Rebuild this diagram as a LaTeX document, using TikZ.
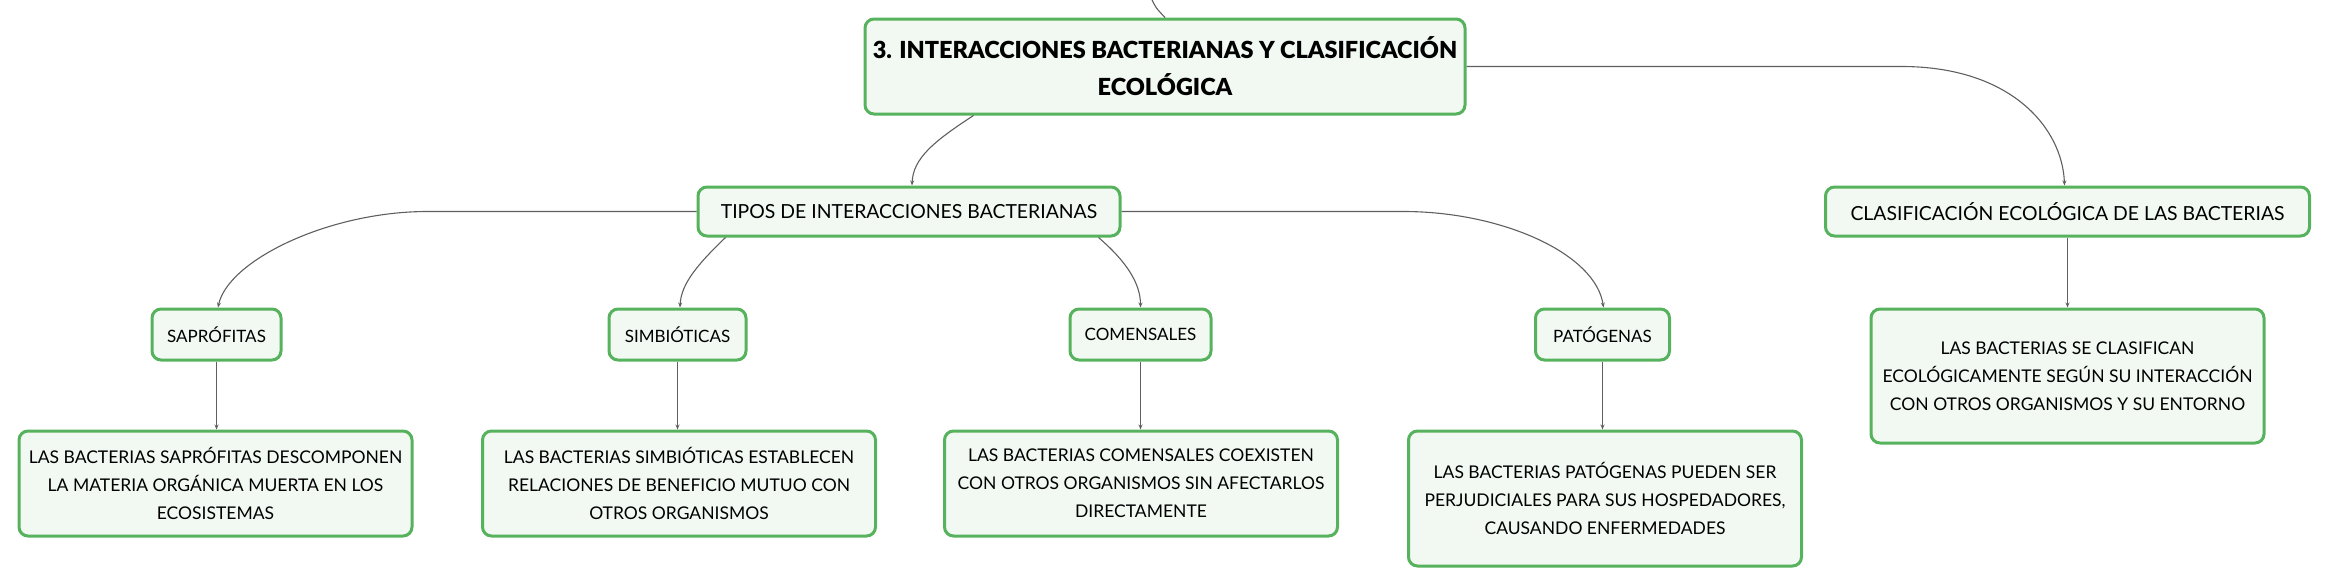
\documentclass[tikz,border=0pt]{standalone}
\usepackage{fontspec}
\setmainfont{Lato}
\newfontfamily\titlefont{Lato Black}
\usetikzlibrary{arrows.meta}
\definecolor{boxgreen}{RGB}{86,178,92}
\definecolor{boxfill}{RGB}{241,249,242}
\definecolor{linkgray}{RGB}{95,95,95}
\begin{document}
\begin{tikzpicture}[x=1pt,y=-1pt,
  box/.style={draw=boxgreen,fill=boxfill,line width=3pt,rounded corners=9pt,align=center,inner sep=0pt},
  mainbox/.style={box,minimum width=600pt,minimum height=95pt,font=\fontsize{23.5}{37}\selectfont\titlefont},
  topicbox/.style={box,minimum height=49pt,font=\fontsize{19.4}{24}\selectfont},
  typebox/.style={box,minimum height=51pt,font=\fontsize{17}{22}\selectfont},
  leafbox/.style={box,minimum width=393pt,font=\fontsize{17.5}{28}\selectfont},
  link/.style={draw=linkgray,line width=1.1pt},
  tip/.style={-{Stealth[length=5pt,width=4pt]}}]

\useasboundingbox (0,0) rectangle (2330,587);

\node[mainbox] (main) at (1165,66.5) {3. INTERACCIONES BACTERIANAS Y CLASIFICACIÓN\\ECOLÓGICA};

\node[topicbox,minimum width=422pt] (tipos) at (909,211.5) {TIPOS DE INTERACCIONES BACTERIANAS};
\node[topicbox,minimum width=484pt] (clasif) at (2067.5,211.5) {CLASIFICACIÓN ECOLÓGICA DE LAS BACTERIAS};

\node[typebox,minimum width=129pt] (sapro) at (216.5,334.5) {SAPRÓFITAS};
\node[typebox,minimum width=137pt] (simbio) at (677.5,334.5) {SIMBIÓTICAS};
\node[typebox,minimum width=141pt] (comen) at (1140.5,334.5) {COMENSALES};
\node[typebox,minimum width=134pt] (pato) at (1602.5,334.5) {PATÓGENAS};

\node[leafbox,minimum height=105pt] (saproleaf) at (215.5,483.5) {LAS BACTERIAS SAPRÓFITAS DESCOMPONEN\\LA MATERIA ORGÁNICA MUERTA EN LOS\\ECOSISTEMAS};
\node[leafbox,minimum height=105pt] (simbioleaf) at (679,483.5) {LAS BACTERIAS SIMBIÓTICAS ESTABLECEN\\RELACIONES DE BENEFICIO MUTUO CON\\OTROS ORGANISMOS};
\node[leafbox,minimum height=105pt] (comenleaf) at (1141,483.5) {LAS BACTERIAS COMENSALES COEXISTEN\\CON OTROS ORGANISMOS SIN AFECTARLOS\\DIRECTAMENTE};
\node[leafbox,minimum height=135pt] (patoleaf) at (1605,498.5) {LAS BACTERIAS PATÓGENAS PUEDEN SER\\PERJUDICIALES PARA SUS HOSPEDADORES,\\CAUSANDO ENFERMEDADES};
\node[leafbox,minimum height=134pt] (clasifleaf) at (2067.5,376) {LAS BACTERIAS SE CLASIFICAN\\ECOLÓGICAMENTE SEGÚN SU INTERACCIÓN\\CON OTROS ORGANISMOS Y SU ENTORNO};

% line coming in from above
\coordinate (up) at (1152,0);
\draw[link] (up) .. controls (1156,8) .. (main.north);

% main to topics
\draw[link,tip] ([xshift=110pt]main.south west) .. controls +(-40,26) and +(1,-27) .. ([xshift=3pt]tipos.north);
\draw[link,tip] (main.east) -- ++(435,0) .. controls +(110,0) and +(-2,-57) .. ([xshift=-3pt]clasif.north);

% topics to types
\draw[link,tip] (tipos.west) -- ++(-269,0) .. controls +(-99,0) and +(10,-47) .. ([xshift=1.5pt]sapro.north);
\draw[link,tip] ([xshift=29pt]tipos.south west) .. controls +(-27,26) and +(1,-24) .. ([xshift=2.5pt]simbio.north);
\draw[link,tip] ([xshift=-23pt]tipos.south east) .. controls +(28,24) and +(0,-24) .. (comen.north);
\draw[link,tip] (tipos.east) -- ++(282,0) .. controls +(98,0) and +(-8,-54) .. ([xshift=1pt]pato.north);

% types to leaves
\draw[link,tip] (sapro.south) -- (sapro.south |- saproleaf.north);
\draw[link,tip] (simbio.south) -- (simbio.south |- simbioleaf.north);
\draw[link,tip] (comen.south) -- (comen.south |- comenleaf.north);
\draw[link,tip] (pato.south) -- (pato.south |- patoleaf.north);
\draw[link,tip] (clasif.south) -- (clasifleaf.north);

\end{tikzpicture}
\end{document}
